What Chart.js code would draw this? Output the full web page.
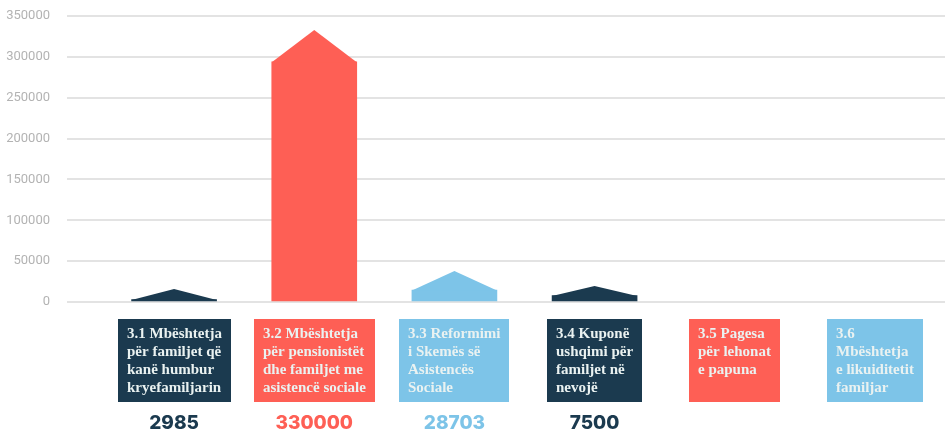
<!DOCTYPE html>
<html>
<head>
<meta charset="utf-8">
<script src="https://cdn.jsdelivr.net/npm/chart.js@4.4.0/dist/chart.umd.min.js"></script>
<style>
  html, body { margin: 0; padding: 0; background: #fff; }
  #wrap { width: 948px; height: 433px; position: relative; }
</style>
</head>
<body>
<div id="wrap"><canvas id="chart"></canvas></div>
<script>
// categories (multi-line box labels)
const categories = [
    ['3.1 Mbështetja', 'për familjet që', 'kanë humbur', 'kryefamiljarin'],
    ['3.2 Mbështetja', 'për pensionistët', 'dhe familjet me', 'asistencë sociale'],
    ['3.3 Reformimi', 'i Skemës së', 'Asistencës', 'Sociale'],
    ['3.4 Kuponë', 'ushqimi për', 'familjet në', 'nevojë'],
    ['3.5 Pagesa', 'për lehonat', 'e papuna'],
    ['3.6', 'Mbështetja', 'e likuiditetit', 'familjar']
];
// amounts printed under the boxes
const amounts = [2985, 330000, 28703, 7500, 0, 0];
// arrow shape: top of the straight part and tip
const shoulderValues = [3000, 294000, 14700, 8000, 0, 0];
const peakValues = [16000, 333000, 38000, 19500, 0, 0];

const palette = ['#1b3a4f', '#fe5f55', '#7dc4e8', '#1b3a4f', '#fe5f55', '#7dc4e8'];

const arrowPlugin = {
    id: 'arrows',
    afterDatasetsDraw(chart) {
        const c = chart.ctx;
        const y = chart.scales.y;
        const meta = chart.getDatasetMeta(0);
        meta.data.forEach(function(bar, i) {
            if (!peakValues[i]) return;
            const half = bar.width / 2;
            const ys = y.getPixelForValue(shoulderValues[i]);
            const yp = y.getPixelForValue(peakValues[i]);
            c.save();
            c.fillStyle = palette[i];
            c.beginPath();
            c.moveTo(bar.x - half, ys + 0.5);
            c.lineTo(bar.x, yp);
            c.lineTo(bar.x + half, ys + 0.5);
            c.closePath();
            c.fill();
            c.restore();
        });
    },
    afterDraw(chart) {
        const c = chart.ctx;
        const x = chart.scales.x;
        const top = chart.chartArea.bottom + 17;
        const boxH = 83;
        const lineH = 18;
        const pad = 9;
        c.save();
        categories.forEach(function(lines, i) {
            const cx = x.getPixelForValue(i);
            c.font = 'bold 15px "Liberation Serif", serif';
            let w = 0;
            lines.forEach(function(l) { w = Math.max(w, c.measureText(l).width); });
            const bw = w + pad * 2;
            const left = Math.round(cx - bw / 2);
            c.fillStyle = palette[i];
            c.fillRect(left, top, Math.round(bw), boxH);
            c.fillStyle = '#eaf2f1';
            c.textAlign = 'left';
            c.textBaseline = 'middle';
            lines.forEach(function(l, k) {
                c.fillText(l, left + pad, top + 15 + k * lineH);
            });
            if (amounts[i]) {
                c.font = '800 19px Inter, sans-serif';
                c.textAlign = 'center';
                c.fillStyle = palette[i];
                c.fillText(String(amounts[i]), cx, top + boxH + 21);
            }
        });
        c.restore();
    }
};

document.addEventListener('DOMContentLoaded', function() {
    new Chart(document.getElementById('chart'), {
        type: 'bar',
        data: {
            labels: categories,
            datasets: [{
                data: shoulderValues.map(function(v) { return v || null; }),
                backgroundColor: palette,
                borderWidth: 0,
                barThickness: 85
            }]
        },
        options: {
            responsive: true,
            maintainAspectRatio: false,
            animation: false,
            events: [],
            layout: {
                padding: { top: 16, left: 5, right: 3, bottom: 131 }
            },
            scales: {
                x: {
                    display: false
                },
                y: {
                    min: 0,
                    max: 350000,
                    afterFit: function(scale) {
                        scale.width = 99;
                        scale.paddingTop = 0;
                        scale.paddingBottom = 0;
                    },
                    border: { display: false },
                    grid: {
                        color: '#e3e3e3',
                        lineWidth: 2,
                        tickColor: '#e3e3e3',
                        tickLength: 37
                    },
                    ticks: {
                        stepSize: 50000,
                        padding: 17,
                        color: '#b3b3b3',
                        font: { family: 'Roboto', size: 13 },
                        callback: function(v) { return String(v); }
                    }
                }
            },
            plugins: {
                legend: { display: false },
                tooltip: { enabled: false }
            }
        },
        plugins: [arrowPlugin]
    });
});
</script>
</body>
</html>
